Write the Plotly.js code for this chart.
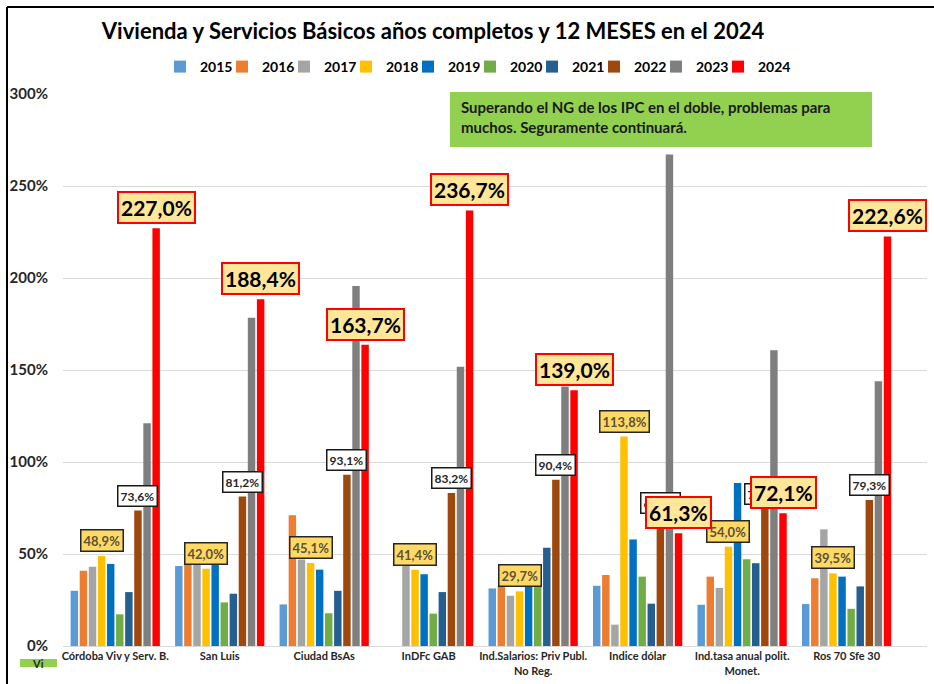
<!DOCTYPE html>
<html>
<head>
<meta charset="utf-8">
<script src="https://cdn.plot.ly/plotly-3.0.1.min.js"></script>
<style>html,body{margin:0;padding:0;background:#fff;}#chart{width:934px;height:684px;}</style>
</head>
<body>
<div id="chart"></div>
<script>
const categories = ["Córdoba Viv y Serv. B.", "San Luis", "Ciudad BsAs", "InDFc GAB",
  "Ind.Salarios: Priv Publ.<br>No Reg.", "Indice dólar", "Ind.tasa anual polit.<br>Monet.", "Ros 70 Sfe 30"];
const years = ["2015","2016","2017","2018","2019","2020","2021","2022","2023","2024"];
const colors = ["#5B9BD5","#ED7D31","#A5A5A5","#FFC000","#0070C0","#70AD47","#255E91","#9E480E","#7F7F7F","#FF0000"];
const yTickVals = [0, 50, 100, 150, 200, 250, 300];
const yTickText = ["0%", "50%", "100%", "150%", "200%", "250%", "300%"];

const v2015 = [30.0, 43.5, 22.6, null, 31.3, 32.7, 22.4, 22.8];
const v2016 = [40.9, 45.5, 71.0, null, 32.5, 38.6, 37.7, 36.8];
const v2017 = [43.1, 44.5, 47.0, 44.5, 27.3, 11.6, 31.6, 63.4];
const v2018 = [48.9, 42.0, 45.1, 41.4, 29.7, 113.8, 54.0, 39.5];
const v2019 = [44.6, 44.0, 41.5, 39.0, 33.0, 57.9, 88.6, 37.7];
const v2020 = [17.2, 23.7, 17.8, 17.6, 33.0, 37.7, 47.2, 20.2];
const v2021 = [29.3, 28.4, 30.0, 29.3, 53.4, 23.0, 45.0, 32.4];
const v2022 = [73.6, 81.2, 93.1, 83.2, 90.4, 69.5, 74.5, 79.3];
const v2023 = [121.0, 178.4, 195.7, 151.8, 141.0, 267.1, 160.7, 143.9];
const v2024 = [227.0, 188.4, 163.7, 236.7, 139.0, 61.3, 72.1, 222.6];
const series = [v2015, v2016, v2017, v2018, v2019, v2020, v2021, v2022, v2023, v2024];

const noteText = "Superando el NG de los IPC en el doble, problemas para<br>muchos. Seguramente continuará.";
const titleText = "Vivienda y Servicios Básicos años completos y 12 MESES en el 2024";

const FONT = "Lato, 'Open Sans', sans-serif";
const bargap = 0.13;
const nS = years.length;

const traces = years.map((y, k) => ({
  type: "bar", name: y, x: categories, y: series[k],
  marker: {color: colors[k], line: {width: 0}},
  hoverinfo: "x+y+name"
}));
// invisible spacer entry so the last legend label is not clipped
traces.push({type: "scatter", mode: "markers", x: [null], y: [null], name: " ",
  marker: {color: "rgba(0,0,0,0)", size: 1}, hoverinfo: "skip", showlegend: true});

function fmt(v) { return v.toFixed(1).replace(".", ",") + "%"; }

const labelStyles = {
  3: {font: {family: FONT, size: 13, color: "#5c5235", weight: 700}, bgcolor: "#FFD966", bordercolor: "#262626", borderwidth: 1.5, borderpad: 2},
  7: {font: {family: FONT, size: 12, color: "#262626", weight: 700}, bgcolor: "#FFFFFF", bordercolor: "#1a1a1a", borderwidth: 1.5, borderpad: 2},
  9: {font: {family: FONT, size: 21, color: "#000000", weight: 700}, bgcolor: "#FFE699", bordercolor: "#FF0000", borderwidth: 2, borderpad: 2}
};
const annotations = [];
[3, 7, 9].forEach(k => {
  series[k].forEach((v, i) => {
    if (v === null) return;
    const off = (k - (nS - 1) / 2) * (1 - bargap) / nS;
    annotations.push(Object.assign({
      xref: "x", yref: "y", x: i + off, y: v, text: fmt(v),
      showarrow: false, xanchor: "center", yanchor: "bottom", yshift: 4
    }, labelStyles[k]));
  });
});

// pixel -> paper helpers (plot area 63..927 x 94..646)
const px = p => (p - 63) / 864;
const py = p => (646 - p) / 552;

annotations.push({
  xref: "paper", yref: "paper", x: px(459), y: py(96), xanchor: "left", yanchor: "top",
  align: "left", showarrow: false, text: noteText,
  font: {family: FONT, size: 15, color: "#1a1a1a", weight: 700}
});
annotations.push({
  xref: "paper", yref: "paper", x: px(38), y: py(663), xanchor: "center", yanchor: "middle",
  showarrow: false, text: "Vi", font: {family: FONT, size: 11, color: "#262626", weight: 700}
});

const shapes = [
  {type: "rect", xref: "paper", yref: "paper", x0: px(450), x1: px(872), y0: py(147), y1: py(92),
   fillcolor: "#92D050", line: {width: 0}, layer: "above"},
  {type: "rect", xref: "paper", yref: "paper", x0: px(20), x1: px(57), y0: py(667), y1: py(659),
   fillcolor: "#92D050", line: {width: 0}, layer: "below"},
  {type: "line", xref: "paper", yref: "paper", x0: px(7), x1: px(7), y0: py(7), y1: py(700),
   line: {color: "#000", width: 2}},
  {type: "line", xref: "paper", yref: "paper", x0: px(7), x1: px(940), y0: py(7), y1: py(7),
   line: {color: "#000", width: 2}}
];

const layout = {
  width: 934, height: 684,
  margin: {l: 63, r: 7, t: 94, b: 38},
  paper_bgcolor: "#fff", plot_bgcolor: "#fff",
  font: {family: FONT, color: "#262626"},
  title: {text: titleText, x: 433 / 934, xanchor: "center", xref: "container",
          y: 1 - 31 / 684, yanchor: "middle", yref: "container",
          font: {family: FONT, size: 22, color: "#000", weight: 700}},
  barmode: "group", bargap: bargap, bargroupgap: 0.18,
  showlegend: true,
  legend: {orientation: "h", x: px(160), xanchor: "left", y: py(67), yanchor: "middle",
           font: {family: FONT, size: 14, color: "#000", weight: 700}, itemwidth: 30,
           entrywidth: 17, entrywidthmode: "pixels",
           traceorder: "normal", bgcolor: "rgba(0,0,0,0)"},
  xaxis: {type: "category", tickfont: {family: FONT, size: 11, color: "#262626", weight: 700},
          showgrid: false, showline: true, linecolor: "#d9d9d9", linewidth: 1, ticks: "",
          fixedrange: true},
  yaxis: {range: [0, 300], tickmode: "array", tickvals: yTickVals, ticktext: yTickText,
          showgrid: true, gridcolor: "#d9d9d9", gridwidth: 1, zeroline: false, showline: false,
          tickfont: {family: FONT, size: 15, color: "#262626", weight: 700}, ticklabelstandoff: 14,
          fixedrange: true},
  annotations: annotations,
  shapes: shapes
};

Plotly.newPlot("chart", traces, layout, {displayModeBar: false, staticPlot: true});
</script>
</body>
</html>
